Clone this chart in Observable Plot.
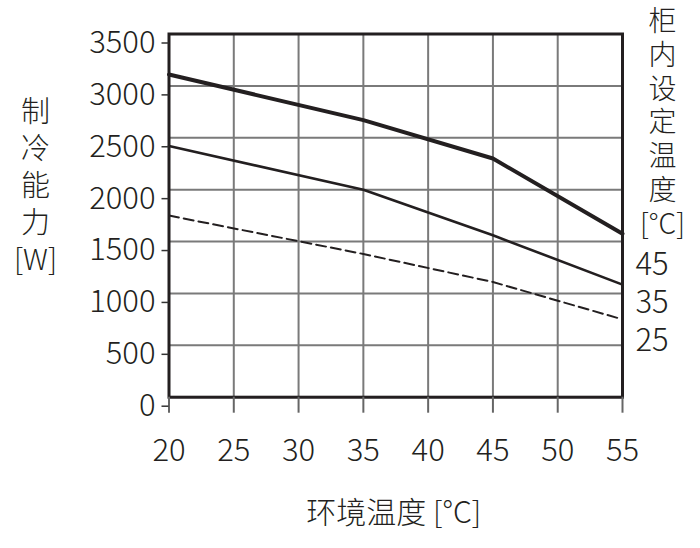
<!DOCTYPE html>
<html>
<head>
<meta charset="utf-8">
<script src="https://cdn.jsdelivr.net/npm/d3@7"></script>
<script src="https://cdn.jsdelivr.net/npm/@observablehq/plot@0.6"></script>
<style>
  html, body { margin: 0; padding: 0; background: #fff; }
</style>
</head>
<body>
<div id="chart"></div>
<script>
// ---- data ----
const ambientTemps = [20, 35, 45, 55];           // 环境温度 [°C]
const capacity45 = [3110, 2670, 2300, 1575];     // 柜内设定温度 45°C
const capacity35 = [2420, 2000, 1560, 1085];     // 柜内设定温度 35°C
const capacity25 = [1750, 1380, 1110, 750];      // 柜内设定温度 25°C
const seriesNames = ["45", "35", "25"];
const xTicks = [20, 25, 30, 35, 40, 45, 50, 55];
const yTicks = [0, 500, 1000, 1500, 2000, 2500, 3000, 3500];
const yLabel = "制冷能力[W]";
const xLabel = "环境温度 [°C]";
const legendTitle = "柜内设定温度[°C]";

const series = [capacity45, capacity35, capacity25];
const rows = [];
series.forEach((vals, i) => {
  vals.forEach((v, j) => rows.push({ set: seriesNames[i], t: ambientTemps[j], w: v }));
});

const font = "'Noto Sans CJK SC', 'Noto Sans', sans-serif";
const ink = "#231f20";

const plot = Plot.plot({
  width: 700,
  height: 548,
  marginLeft: 168.5,
  marginRight: 78,
  marginTop: 33.5,
  marginBottom: 151.3,
  style: { fontFamily: font, fontSize: "31px", fontWeight: 300, color: ink, background: "#fff" },
  x: { domain: [20, 55] },
  y: { domain: [0, 3500] },
  marks: [
    Plot.gridX(xTicks, { stroke: "#7a7a7a", strokeOpacity: 1, strokeWidth: 2 }),
    Plot.gridY(yTicks, { stroke: "#7a7a7a", strokeOpacity: 1, strokeWidth: 2 }),
    Plot.line(rows.filter(d => d.set === "45"), { x: "t", y: "w", stroke: ink, strokeWidth: 4 }),
    Plot.line(rows.filter(d => d.set === "35"), { x: "t", y: "w", stroke: ink, strokeWidth: 2.6 }),
    Plot.line(rows.filter(d => d.set === "25"), { x: "t", y: "w", stroke: ink, strokeWidth: 2, strokeDasharray: "10,5" }),
    Plot.frame({ stroke: ink, strokeWidth: 3 }),
    Plot.axisX(xTicks, { tickSize: 16, tickPadding: 26, label: null, stroke: "#666", strokeWidth: 2, fill: ink, fontSize: 31, fontWeight: 300, tickFormat: d => String(d) }),
    Plot.axisY(yTicks, { tickSize: 7, tickPadding: 6.5, label: null, stroke: "#333", strokeWidth: 1.5, fill: ink, fontSize: 31, fontWeight: 300, dy: 9, tickFormat: d => String(d) }),
    Plot.text([yLabel.replace("[W]", "").split("").join("\n") + "\n[W]"], {
      frameAnchor: "left", dx: -133.5, dy: -31.5, textAnchor: "middle",
      lineHeight: 1.27, fontSize: 29, fontWeight: 300, fill: ink
    }),
    Plot.text([legendTitle.replace("[°C]", "").split("").join("\n") + "\n[°C]"], {
      frameAnchor: "right", dx: 40, dy: -94, textAnchor: "middle",
      lineHeight: 1.21, fontSize: 28, fontWeight: 300, fill: ink
    }),
    Plot.text([seriesNames.join("\n")], {
      frameAnchor: "right", dx: 29.5, dy: 85, textAnchor: "middle",
      lineHeight: 1.226, fontSize: 31, fontWeight: 300, fill: ink
    }),
    Plot.text([xLabel], {
      frameAnchor: "bottom", dx: -2, dy: 126, textAnchor: "middle",
      fontSize: 30, fontWeight: 300, fill: ink
    })
  ]
});

document.getElementById("chart").appendChild(plot);
</script>
</body>
</html>
